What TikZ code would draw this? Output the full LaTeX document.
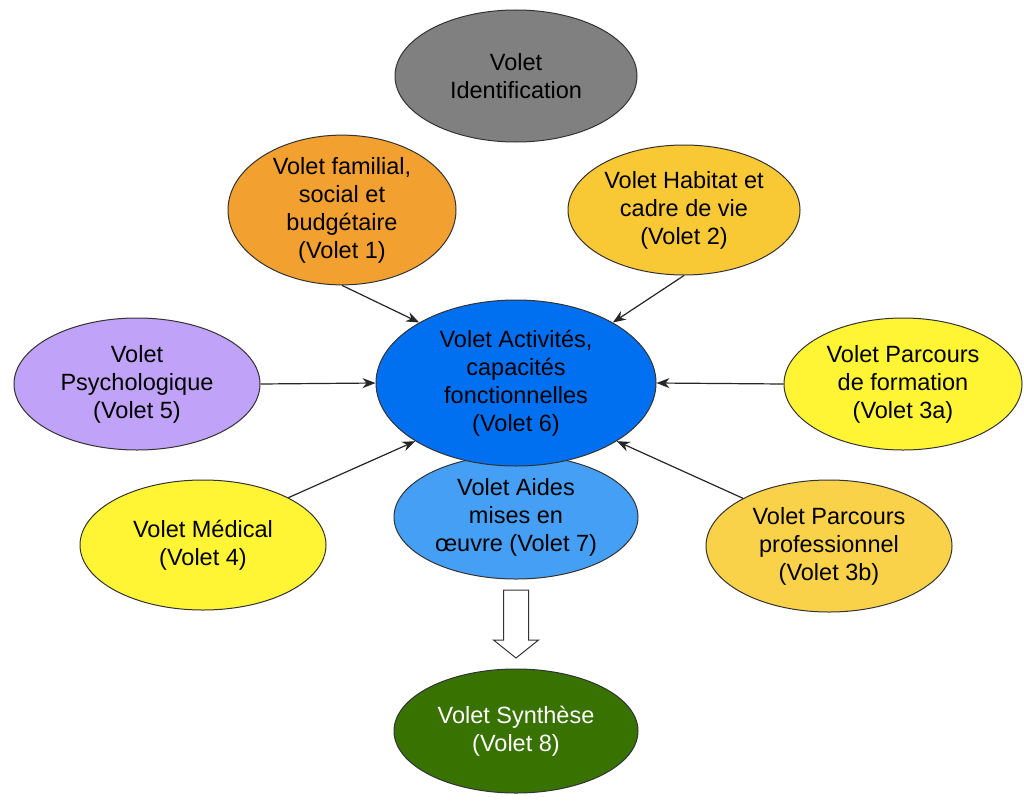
\documentclass[tikz,border=0pt]{standalone}
\usepackage{fontspec}
\setmainfont{Liberation Sans}
\usetikzlibrary{shapes.geometric,arrows.meta}
\definecolor{cgray}{HTML}{808080}
\definecolor{corange}{HTML}{F2A030}
\definecolor{chabitat}{HTML}{F9C935}
\definecolor{clav}{HTML}{C0A2F8}
\definecolor{cblue}{HTML}{0070F0}
\definecolor{cyellow}{HTML}{FFF535}
\definecolor{cpro}{HTML}{FAD24A}
\definecolor{caides}{HTML}{45A0F5}
\definecolor{cgreen}{HTML}{387200}
\tikzset{
  volet/.style={ellipse, draw=black!80, line width=1pt, inner sep=0pt, align=center,
    font=\fontsize{23.5}{28}\selectfont, text=black},
  conn/.style={-{Stealth[length=13pt,width=10pt]}, line width=1.2pt, black!85},
  hollow/.style={draw=black!80, fill=white, line width=1pt, line join=miter}
}
\begin{document}
\begin{tikzpicture}[x=1pt,y=-1pt]
\useasboundingbox (0,0) rectangle (1024,800);
\fill[white] (0,0) rectangle (1024,800);
\node[volet, fill=cgray, minimum width=242pt, minimum height=132pt] (ident) at (516,76) {Volet\\Identification};
\node[volet, fill=corange, minimum width=228pt, minimum height=130pt] (fam) at (342,210) {Volet familial,\\social et\\budgétaire\\(Volet 1)};
\node[volet, fill=chabitat, minimum width=232pt, minimum height=130pt] (hab) at (684,210) {Volet Habitat et\\cadre de vie\\(Volet 2)};
\node[volet, fill=clav, minimum width=246pt, minimum height=132pt] (psy) at (137,384) {Volet\\Psychologique\\(Volet 5)};
\node[volet, fill=cyellow, minimum width=238pt, minimum height=132pt] (form) at (903,384) {Volet Parcours\\de formation\\(Volet 3a)};
\node[volet, fill=cyellow, minimum width=246pt, minimum height=130pt] (med) at (203,545) {Volet Médical\\(Volet 4)};
\node[volet, fill=cpro, minimum width=246pt, minimum height=132pt] (pro) at (829,546) {Volet Parcours\\professionnel\\(Volet 3b)};
\node[volet, fill=caides, minimum width=244pt, minimum height=124pt] (aides) at (516,517) {Volet Aides\\mises en\\œuvre (Volet 7)};
\node[volet, fill=cblue, minimum width=280pt, minimum height=166pt] (act) at (516,383) {Volet Activités,\\capacités\\fonctionnelles\\(Volet 6)};
\node[volet, fill=cgreen, text=white, minimum width=244pt, minimum height=124pt] (syn) at (516,731) {Volet Synthèse\\(Volet 8)};
\coordinate (bigtop) at (516,590);
\draw[hollow] (bigtop) ++(-12.5,0) -- ++(0,50) -- ++(-10,0) -- (516,658) -- (538.5,640) -- ++(-10,0) -- ++(0,-50) -- cycle;
\draw[conn] (fam.south) -- (act.148);
\draw[conn] (hab.south) -- (act.32);
\draw[conn] (psy.east) -- (act.west);
\draw[conn] (form.west) -- (act.east);
\draw[conn] (med.29) -- (act.210);
\draw[conn] (pro.151) -- (act.330);
\end{tikzpicture}
\end{document}
